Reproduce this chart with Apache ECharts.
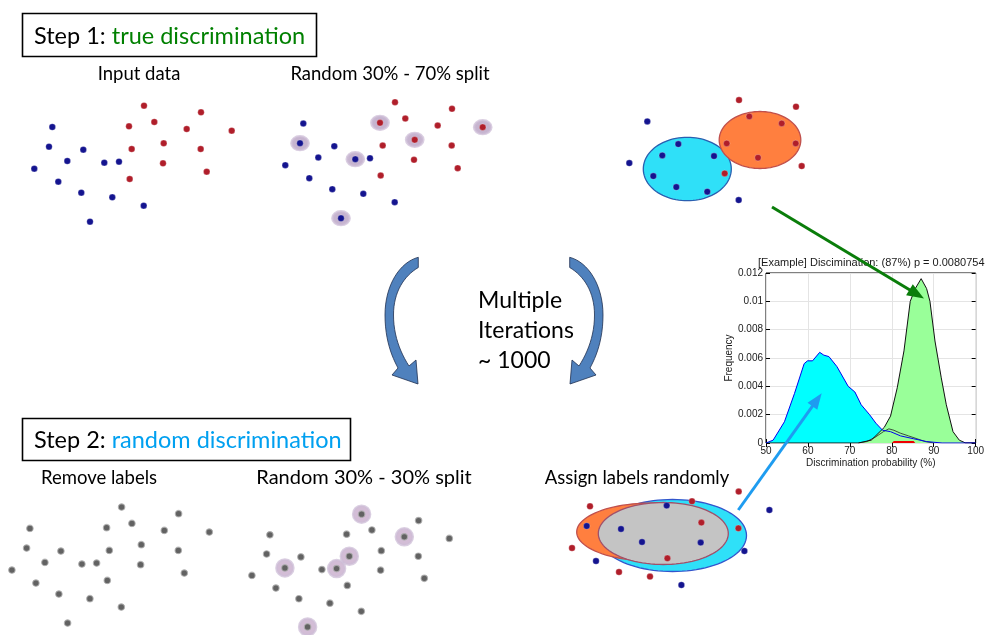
<!DOCTYPE html>
<html><head><meta charset="utf-8">
<script src="https://cdn.jsdelivr.net/npm/echarts@6/dist/echarts.min.js"></script>
<style>html,body{margin:0;padding:0;background:#fff}#c{width:987px;height:635px}</style>
</head><body><div id="c"></div>
<script>
// ---------- scatter pattern (panel coordinates) ----------
// indices 0-11 : class "blue", 12-23 : class "red"
const ptX = [22.3, 19, 53.3, 37.3, 74.3, 89, 4.3, 28.3, 51.3, 82.3, 113.7, 60,
             114, 171, 99, 124.3, 156.7, 201.7, 133.7, 101.7, 170.7, 133, 176.7, 99.7];
const ptY = [27, 46.7, 49.7, 61, 62.7, 61.7, 68.7, 81.7, 92.7, 97.3, 105.7, 121.7,
             5.7, 12.3, 26.3, 22, 29, 30.7, 43.3, 49, 49, 63.3, 71.7, 79];
const trueLabel = ['b','b','b','b','b','b','b','b','b','b','b','b',
                   'r','r','r','r','r','r','r','r','r','r','r','r'];
const heldOut1 = [1, 4, 11, 14, 17, 18];      // 30% test set, step 1
const heldOut2 = [3, 5, 11, 12, 16, 19];      // 30% test set, step 2
const randomLabel = {0:'r',1:'b',2:'b',4:'b',6:'r',7:'b',8:'r',9:'r',10:'b',
                     13:'r',14:'b',15:'r',17:'b',18:'r',20:'r',21:'b',22:'b',23:'r'};
// ellipses [cx, cy, rx, ry] in panel coordinates
const ellTrueCyan = [62.3, 74.6, 44, 31.7];
const ellTrueOrange = [135, 45.6, 40.8, 28.5];
const ellRandOrange = [84, 52.7, 75, 29];
const ellRandCyan = [104.8, 56.2, 74, 36];
const ellRandGray = [95.6, 54.2, 65, 31];

// ---------- histogram ----------
const cyanX = [50, 50.2, 51.7, 54.4, 56.8, 59.1, 59.9, 61.1, 62.8, 63.8, 65, 66.9, 69.6, 71.2, 72.7, 74.7, 76.2, 77.8, 79.7, 82.1, 85.2, 88.3, 92, 100];
const cyanY = [0, 0.0001, 0.0002, 0.0015, 0.0035, 0.0056, 0.0058, 0.0058, 0.0064, 0.0062, 0.0061, 0.0054, 0.0040, 0.0036, 0.0027, 0.0020, 0.0014, 0.0009, 0.0008, 0.0005, 0.0003, 0.0001, 0, 0];
const greenX = [50, 72, 75.1, 78.2, 79.7, 81.3, 82.9, 84.4, 85.6, 87.0, 88.3, 89.1, 90.3, 91.8, 93.0, 94.6, 96.1, 97.6, 100];
const greenY = [0, 0, 0.0002, 0.0011, 0.0019, 0.0039, 0.0065, 0.0100, 0.0109, 0.0116, 0.0109, 0.0100, 0.0072, 0.0046, 0.0027, 0.0008, 0.0002, 0, 0];
const grayX = [72, 74, 76, 78, 79.3, 80.5, 82, 84, 86, 88, 90];
const grayY = [0, 0.0001, 0.0004, 0.0008, 0.001, 0.0009, 0.0007, 0.0005, 0.0003, 0.0001, 0];
const redX = [80, 80.5, 85.2, 85.6];
const redY = [0, 0.00015, 0.00015, 0];
const xTicks = [50, 60, 70, 80, 90, 100];
const yTickLabels = ['0', '0.002', '0.004', '0.006', '0.008', '0.01', '0.012'];
const histTitle = '[Example] Discimination: (87%) p = 0.0080754';

// ---------- styling ----------
const FONT = 'Lato';
const BLUE = '#14148f', RED = '#b01e2a', GRAY = '#626262';
const panels = [ // grid left/top for each scatter panel
  [30, 100], [281, 96.5], [625, 94.4], [7.6, 501.4], [247.6, 508.6], [567.7, 479.3]
];

const grids = [], xAxes = [], yAxes = [], series = [];
panels.forEach((p, i) => {
  grids.push({left: p[0], top: p[1], width: 220, height: 130});
  xAxes.push({gridIndex: i, type: 'value', min: 0, max: 220, show: false});
  yAxes.push({gridIndex: i, type: 'value', min: 0, max: 130, inverse: true, show: false});
});
const zip = idx => idx.map(k => [ptX[k], ptY[k]]);
const all = ptX.map((_, k) => k);
function pts(g, idx, color, border) {
  series.push({type: 'scatter', xAxisIndex: g, yAxisIndex: g, data: zip(idx),
    symbolSize: 6.5, silent: true, clip: false,
    itemStyle: {color: color, opacity: 1, borderColor: border || 'rgba(255,255,255,0.5)', borderWidth: border ? 1.2 : 0.5}});
}
function halo(g, idx, color, size) {
  series.push({type: 'scatter', xAxisIndex: g, yAxisIndex: g, data: zip(idx), symbolSize: size,
    silent: true, clip: false,
    itemStyle: {color: color, opacity: 1, borderColor: 'rgba(205,190,215,0.75)', borderWidth: 2.5}});
}
function ellipse(g, e, fill, stroke) {
  series.push({type: 'custom', xAxisIndex: g, yAxisIndex: g, data: [e], silent: true, clip: false,
    renderItem: (params, api) => {
      const c = api.coord([api.value(0), api.value(1)]);
      const s = api.size([api.value(2), api.value(3)]);
      const rx = Math.abs(s[0]), ry = Math.abs(s[1]);
      const poly = [];
      for (let k = 0; k < 96; k++) {
        const t = k / 96 * Math.PI * 2;
        poly.push([c[0] + rx * Math.cos(t), c[1] + ry * Math.sin(t)]);
      }
      return {type: 'polygon', shape: {points: poly},
        style: {fill: fill, stroke: stroke, lineWidth: 1.3}};
    }});
}
const byLabel = (idx, lab, L) => idx.filter(k => lab[k] === L);

// panel 0 : input data
pts(0, byLabel(all, trueLabel, 'b'), BLUE);
pts(0, byLabel(all, trueLabel, 'r'), RED);
// panel 1 : random 30/70 split
halo(1, heldOut1, 'rgba(160,130,175,0.6)', [17, 14]);
pts(1, byLabel(all, trueLabel, 'b'), BLUE);
pts(1, byLabel(all, trueLabel, 'r'), RED);
// panel 2 : training set + ellipses
ellipse(2, ellTrueCyan, '#2fe0f8', '#2a5fb0');
ellipse(2, ellTrueOrange, '#ff7f3f', '#c0504d');
const train1 = all.filter(k => heldOut1.indexOf(k) < 0);
pts(2, byLabel(train1, trueLabel, 'b'), BLUE);
pts(2, byLabel(train1, trueLabel, 'r'), RED);
// panel 3 : remove labels
pts(3, all, GRAY, 'rgba(175,175,175,0.8)');
// panel 4 : random 30/30 split
halo(4, heldOut2, 'rgba(175,135,180,0.55)', 17);
pts(4, all, GRAY, 'rgba(175,175,175,0.8)');
// panel 5 : assign labels randomly
ellipse(5, ellRandCyan, '#2fe0f8', '#3355cc');
ellipse(5, ellRandOrange, '#ff7f3f', '#c0504d');
ellipse(5, ellRandGray, '#c4c4c4', '#a0506a');
const train2 = all.filter(k => heldOut2.indexOf(k) < 0);
pts(5, byLabel(train2, randomLabel, 'b'), BLUE);
pts(5, byLabel(train2, randomLabel, 'r'), RED);

// ---------- histogram grid ----------
const H = 6;
grids.push({left: 766, top: 273, width: 214, height: 170, show: true, borderColor: '#000', borderWidth: 1,
  backgroundColor: '#fff'});
const tickStyle = {show: true, inside: true, length: 4, lineStyle: {color: '#000', width: 1}};
const lblStyle = {fontSize: 10, color: '#1a1a1a', fontFamily: 'Liberation Sans'};
xAxes.push({gridIndex: H, type: 'value', min: xTicks[0], max: xTicks[xTicks.length - 1], interval: 10,
  axisLine: {show: false}, axisTick: tickStyle,
  axisLabel: Object.assign({margin: 3, showMaxLabel: true}, lblStyle),
  splitLine: {show: true, lineStyle: {color: '#e4e4e4', width: 1}},
  name: 'Discrimination probability (%)', nameLocation: 'middle', nameGap: 15,
  nameTextStyle: {fontSize: 10, color: '#1a1a1a', fontFamily: 'Liberation Sans'}});
xAxes.push({gridIndex: H, type: 'value', position: 'top', min: 50, max: 100, interval: 10,
  axisLine: {show: false}, axisTick: tickStyle, axisLabel: {show: false}, splitLine: {show: false}});
yAxes.push({gridIndex: H, type: 'value', min: 0, max: 0.012, interval: 0.002,
  axisLine: {show: false}, axisTick: tickStyle,
  axisLabel: Object.assign({margin: 3, formatter: v => yTickLabels[Math.round(v / 0.002)]}, lblStyle),
  splitLine: {show: true, lineStyle: {color: '#e4e4e4', width: 1}},
  name: 'Frequency', nameLocation: 'middle', nameGap: 31, nameRotate: 90,
  nameTextStyle: {fontSize: 10, color: '#1a1a1a', fontFamily: 'Liberation Sans'}});
yAxes.push({gridIndex: H, type: 'value', position: 'right', min: 0, max: 0.012, interval: 0.002,
  axisLine: {show: false}, axisTick: tickStyle, axisLabel: {show: false}, splitLine: {show: false}});
const xy = (X, Y) => X.map((x, i) => [x, Y[i]]);
function hist(X, Y, fill, line, lw) {
  series.push({type: 'line', xAxisIndex: H, yAxisIndex: H, data: xy(X, Y), symbol: 'none', silent: true,
    lineStyle: line ? {color: line, width: lw || 1} : {width: 0, opacity: 0},
    areaStyle: fill ? {color: fill, opacity: 1} : undefined});
}
hist(cyanX, cyanY, '#00ffff', null);
hist(grayX, grayY, '#d4d4d4', '#222', 0.8);
hist(greenX, greenY, '#99ff99', '#111', 1);
hist(redX, redY, '#ee0000', null);
hist(cyanX, cyanY, null, '#0000ee', 1);

// ---------- annotations ----------
function arrow(x1, y1, x2, y2, color, lw, hl, hw) {
  const a = Math.atan2(y2 - y1, x2 - x1);
  const bx = x2 - hl * Math.cos(a), by = y2 - hl * Math.sin(a);
  const px = -Math.sin(a) * hw / 2, py = Math.cos(a) * hw / 2;
  return [
    {type: 'line', z: 100, shape: {x1: x1, y1: y1, x2: bx + Math.cos(a) * 2, y2: by + Math.sin(a) * 2}, style: {stroke: color, lineWidth: lw}},
    {type: 'polygon', z: 100, shape: {points: [[x2, y2], [bx + px, by + py], [bx - px, by - py]]}, style: {fill: color}}
  ];
}
function txt(x, y, text, size, align, color) {
  return {type: 'text', x: x, y: y, z: 50, style: {text: text, fill: color || '#000', fontSize: size,
    fontFamily: FONT, textAlign: align || 'center', textVerticalAlign: 'middle'}};
}
// cubic bezier sampling for the curved "iteration" arrows
function bez(p0, p1, p2, p3, n) {
  const out = [];
  for (let i = 0; i <= n; i++) {
    const t = i / n, u = 1 - t;
    out.push([u*u*u*p0[0] + 3*u*u*t*p1[0] + 3*u*t*t*p2[0] + t*t*t*p3[0],
              u*u*u*p0[1] + 3*u*u*t*p1[1] + 3*u*t*t*p2[1] + t*t*t*p3[1]]);
  }
  return out;
}
function curvedArrow(mx) { // mx(x) mirrors x for the right-hand arrow
  const P = p => [mx(p[0]), p[1]];
  let pts = [];
  pts = pts.concat(bez(P([418.3,257.3]), P([400,262]), P([385,285]), P([385,315]), 16));
  pts = pts.concat(bez(P([385,315]), P([385,340]), P([392,357]), P([398,368]), 12));
  pts.push(P([392,375]), P([418,384]), P([416,360]), P([409,366]));
  pts = pts.concat(bez(P([409,366]), P([400,352]), P([393.5,335]), P([393.5,315]), 12));
  pts = pts.concat(bez(P([393.5,315]), P([393.5,292]), P([404,276]), P([418.3,267.5]), 16));
  return {type: 'polygon', shape: {points: pts}, style: {fill: '#4f81bd', stroke: '#1f3050', lineWidth: 0.8}};
}

const graphic = [
  {type: 'rect', shape: {x: 22.5, y: 13.5, width: 294, height: 43}, style: {fill: '#fff', stroke: '#000', lineWidth: 1.6}},
  {type: 'text', x: 34, y: 36, z: 50, style: {text: '{a|Step 1: }{b|true discrimination}', textVerticalAlign: 'middle',
    rich: {a: {fill: '#000', fontSize: 23.5, fontFamily: FONT}, b: {fill: '#008000', fontSize: 23.5, fontFamily: FONT}}}},
  {type: 'rect', shape: {x: 22.5, y: 418.5, width: 328, height: 42}, style: {fill: '#fff', stroke: '#000', lineWidth: 1.6}},
  {type: 'text', x: 34, y: 440, z: 50, style: {text: '{a|Step 2: }{b|random discrimination}', textVerticalAlign: 'middle',
    rich: {a: {fill: '#000', fontSize: 23.5, fontFamily: FONT}, b: {fill: '#00A0F0', fontSize: 23.5, fontFamily: FONT}}}},
  txt(139, 74, 'Input data', 18.5),
  txt(390, 74, 'Random 30% - 70% split', 18.5),
  txt(99, 478, 'Remove labels', 18.5),
  txt(364, 478, 'Random 30% - 30% split', 20),
  txt(637, 478, 'Assign labels randomly', 18.5),
  txt(478, 301, 'Multiple', 23, 'left'),
  txt(478, 331, 'Iterations', 23, 'left'),
  txt(478, 361, '~ 1000', 23, 'left'),
  {type: 'text', x: 758, y: 263, z: 50, style: {text: histTitle, fill: '#1a1a1a', fontSize: 11,
    fontFamily: 'Liberation Sans', textAlign: 'left', textVerticalAlign: 'middle'}},
  curvedArrow(x => x),
  curvedArrow(x => 988 - x)
].concat(arrow(772, 207, 924, 298.5, '#0a7d0a', 3, 17, 13))
 .concat(arrow(738.3, 510, 821.7, 393.3, '#1e9cf0', 3, 16, 12));

const chart = echarts.init(document.getElementById('c'), null, {renderer: 'canvas'});
chart.setOption({
  backgroundColor: '#fff', animation: false,
  grid: grids, xAxis: xAxes, yAxis: yAxes, series: series, graphic: graphic
});
</script></body></html>
